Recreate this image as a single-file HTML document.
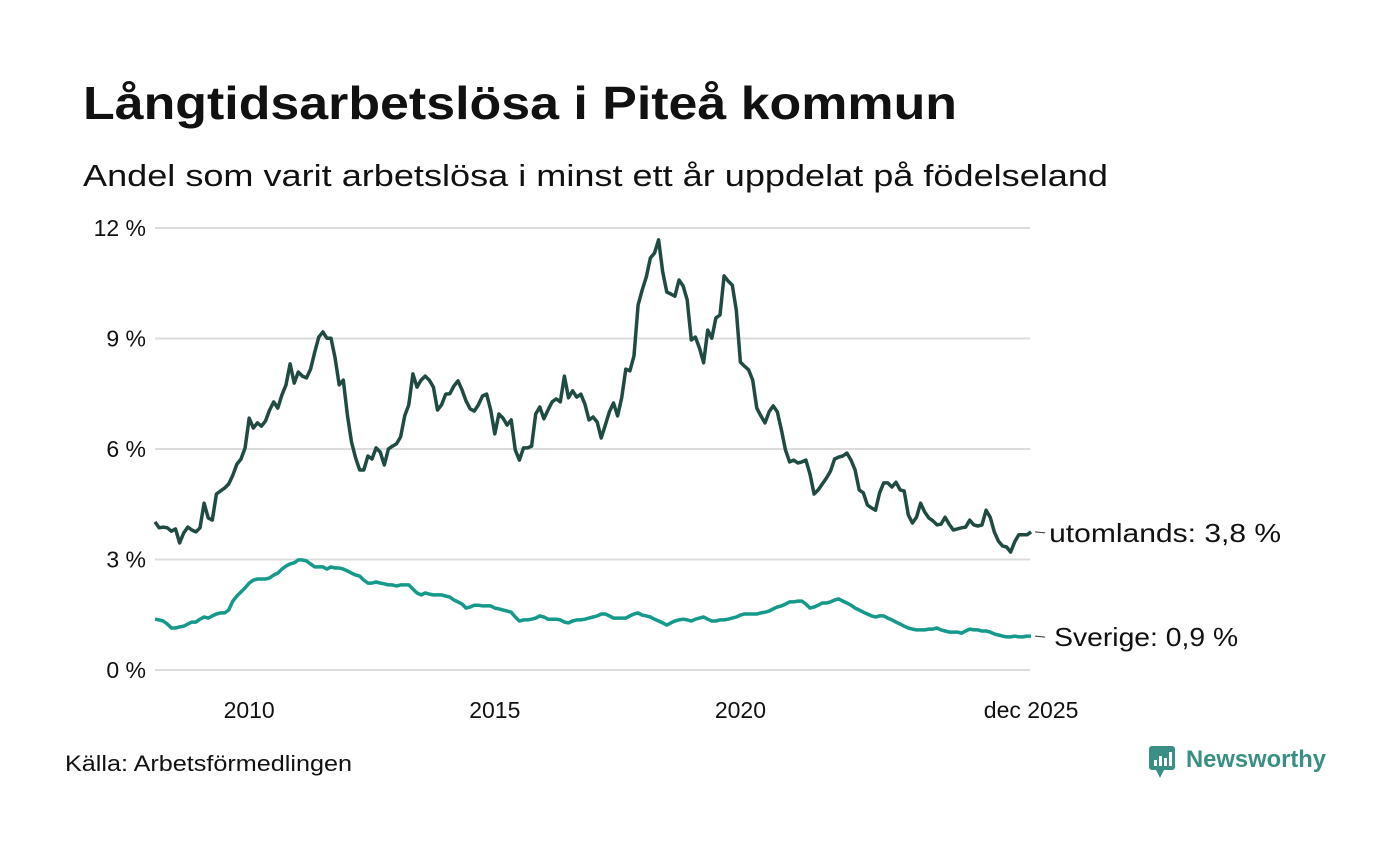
<!DOCTYPE html>
<html><head><meta charset="utf-8"><style>
html,body{margin:0;padding:0;background:#fff;}
svg text{font-family:"Liberation Sans",sans-serif;}
</style></head><body>
<svg id="chart" width="1400" height="840" viewBox="0 0 1400 840" xmlns="http://www.w3.org/2000/svg">
<text x="83" y="119" font-size="46" font-weight="bold" fill="#111" textLength="874" lengthAdjust="spacingAndGlyphs">Långtidsarbetslösa i Piteå kommun</text>
<text x="83" y="186" font-size="31" fill="#111" textLength="1025" lengthAdjust="spacingAndGlyphs">Andel som varit arbetslösa i minst ett år uppdelat på födelseland</text>
<g id="grid"></g>
<g id="yticks"></g>
<g id="xticks"></g>
<g id="series"></g>
<g id="labels"></g>
<text x="65" y="771" font-size="22" fill="#111" textLength="287" lengthAdjust="spacingAndGlyphs">Källa: Arbetsförmedlingen</text>
<g>
<rect x="1149" y="746" width="26" height="24" rx="3" fill="#3a8f84"/>
<polygon points="1156,770 1164,770 1160,778" fill="#3a8f84"/>
<rect x="1154" y="760" width="3" height="6" fill="#fff"/><rect x="1159" y="756" width="3" height="10" fill="#fff"/><rect x="1164" y="758" width="3" height="8" fill="#fff"/><rect x="1169" y="752" width="3" height="14" fill="#fff"/>
<text x="1186" y="767" font-size="24" font-weight="bold" fill="#3a8f84" textLength="140" lengthAdjust="spacingAndGlyphs">Newsworthy</text>
</g>
</svg>
<script>
const yTickValues = [0, 3, 6, 9, 12];
const yTickLabels = ["0 %", "3 %", "6 %", "9 %", "12 %"];
const xTickMonths = [23, 83, 143, 214];
const xTickLabels = ["2010", "2015", "2020", "dec 2025"];
const seriesNames = ["utomlands", "Sverige"];
const endLabels = ["utomlands: 3,8 %", "Sverige: 0,9 %"];
// monthly values from Feb 2008 (index 0) to Dec 2025 (index 214)
const utomlands = [4.02,3.86,3.88,3.86,3.77,3.83,3.45,3.72,3.88,3.80,3.75,3.86,4.53,4.13,4.07,4.78,4.86,4.94,5.05,5.29,5.59,5.73,6.03,6.84,6.57,6.71,6.62,6.76,7.06,7.28,7.11,7.47,7.74,8.31,7.79,8.09,7.98,7.93,8.17,8.63,9.04,9.18,9.01,9.01,8.47,7.74,7.87,6.92,6.19,5.76,5.43,5.43,5.81,5.73,6.03,5.92,5.57,6.00,6.08,6.14,6.33,6.90,7.20,8.04,7.68,7.87,7.98,7.87,7.68,7.06,7.20,7.49,7.50,7.71,7.85,7.60,7.30,7.09,7.03,7.20,7.44,7.49,7.06,6.41,6.95,6.84,6.65,6.79,5.97,5.70,6.03,6.03,6.08,6.95,7.14,6.82,7.06,7.28,7.36,7.28,7.98,7.39,7.58,7.41,7.49,7.22,6.79,6.87,6.73,6.30,6.65,7.01,7.25,6.90,7.39,8.17,8.12,8.53,9.91,10.32,10.67,11.19,11.32,11.68,10.81,10.26,10.21,10.15,10.59,10.43,10.05,8.96,9.04,8.74,8.34,9.23,9.01,9.56,9.64,10.70,10.56,10.45,9.77,8.36,8.25,8.15,7.87,7.11,6.90,6.71,7.01,7.17,7.01,6.52,5.97,5.65,5.70,5.62,5.65,5.70,5.32,4.78,4.89,5.05,5.21,5.40,5.73,5.78,5.81,5.89,5.70,5.43,4.89,4.81,4.48,4.40,4.34,4.81,5.08,5.08,4.97,5.10,4.89,4.86,4.21,3.99,4.15,4.53,4.29,4.13,4.05,3.94,3.96,4.15,3.96,3.80,3.83,3.86,3.88,4.07,3.94,3.91,3.94,4.34,4.15,3.75,3.50,3.37,3.34,3.20,3.48,3.67,3.67,3.67,3.75];
const sverige = [1.38,1.36,1.33,1.25,1.14,1.14,1.17,1.19,1.25,1.30,1.30,1.38,1.44,1.41,1.47,1.52,1.55,1.55,1.63,1.87,2.01,2.12,2.23,2.36,2.44,2.47,2.47,2.47,2.50,2.58,2.63,2.74,2.82,2.88,2.91,2.99,2.99,2.96,2.88,2.80,2.80,2.80,2.74,2.80,2.77,2.77,2.74,2.69,2.63,2.58,2.55,2.44,2.36,2.36,2.39,2.36,2.34,2.31,2.31,2.28,2.31,2.31,2.31,2.20,2.09,2.04,2.09,2.06,2.04,2.04,2.04,2.01,1.98,1.90,1.85,1.79,1.68,1.71,1.76,1.76,1.74,1.74,1.74,1.68,1.66,1.63,1.60,1.57,1.44,1.33,1.36,1.36,1.38,1.41,1.47,1.44,1.38,1.38,1.38,1.36,1.30,1.28,1.33,1.36,1.36,1.38,1.41,1.44,1.47,1.52,1.52,1.47,1.41,1.41,1.41,1.41,1.47,1.52,1.55,1.49,1.47,1.44,1.38,1.33,1.28,1.22,1.28,1.33,1.36,1.38,1.36,1.33,1.38,1.41,1.44,1.38,1.33,1.33,1.36,1.36,1.38,1.41,1.44,1.49,1.52,1.52,1.52,1.52,1.55,1.57,1.60,1.66,1.71,1.74,1.79,1.85,1.85,1.87,1.87,1.79,1.68,1.71,1.76,1.82,1.82,1.85,1.90,1.93,1.87,1.82,1.76,1.68,1.63,1.57,1.52,1.47,1.44,1.47,1.47,1.41,1.36,1.30,1.25,1.19,1.14,1.11,1.09,1.09,1.09,1.11,1.11,1.14,1.09,1.06,1.03,1.03,1.03,1.00,1.06,1.11,1.09,1.09,1.06,1.06,1.03,0.98,0.95,0.92,0.90,0.90,0.92,0.90,0.90,0.92,0.92];

const NS = "http://www.w3.org/2000/svg";
const X0 = 155, XSTEP = 4.094, Y0 = 670, YPER = 36.83;
function xScale(m){ return X0 + m * XSTEP; }
function yScale(v){ return Y0 - v * YPER; }
function mk(tag, attrs, parent){ const e = document.createElementNS(NS, tag); for (const k in attrs) e.setAttribute(k, attrs[k]); parent.appendChild(e); return e; }

const grid = document.getElementById('grid'), yt = document.getElementById('yticks'), xt = document.getElementById('xticks');
yTickValues.forEach((v, i) => {
  const ln = mk('line', {x1: 155, x2: 1030, y1: yScale(v), y2: yScale(v), stroke: '#dcdcdc', 'stroke-width': 2}, grid);
  
  
  const t = mk('text', {x: 146, y: yScale(v) + 8, 'text-anchor': 'end', 'font-size': 23, fill: '#111'}, yt);
  t.textContent = yTickLabels[i];
  
  
});
xTickMonths.forEach((m, i) => {
  const t = mk('text', {x: xScale(m), y: 718, 'text-anchor': 'middle', 'font-size': 23, fill: '#111'}, xt);
  t.textContent = xTickLabels[i];
  
  
});

const colors = ['#1f4b43', '#14998a'];
const allSeries = [utomlands, sverige];
const labelWidths = [232, 184];
const ser = document.getElementById('series'), lab = document.getElementById('labels');
allSeries.forEach((vals, s) => {
  const d = vals.map((v, i) => (i ? 'L' : 'M') + xScale(i).toFixed(1) + ',' + yScale(v).toFixed(1)).join(' ');
  const p = mk('path', {d: d, fill: 'none', stroke: colors[s], 'stroke-width': 3.5, 'stroke-linejoin': 'round'}, ser);
  
  
  const last = vals.length - 1, ly = yScale(vals[last]);
  const ld = mk('line', {x1: xScale(last) + 4, x2: xScale(last) + 14, y1: ly, y2: ly + 1, stroke: '#333', 'stroke-width': 1}, lab);
  
  
  const t = mk('text', {x: xScale(last) + 18 + (s ? 5 : 0), y: ly + 10, 'font-size': 26, fill: '#111', textLength: labelWidths[s], lengthAdjust: 'spacingAndGlyphs'}, lab);
  t.textContent = endLabels[s];
  
  
});
</script>
</body></html>
